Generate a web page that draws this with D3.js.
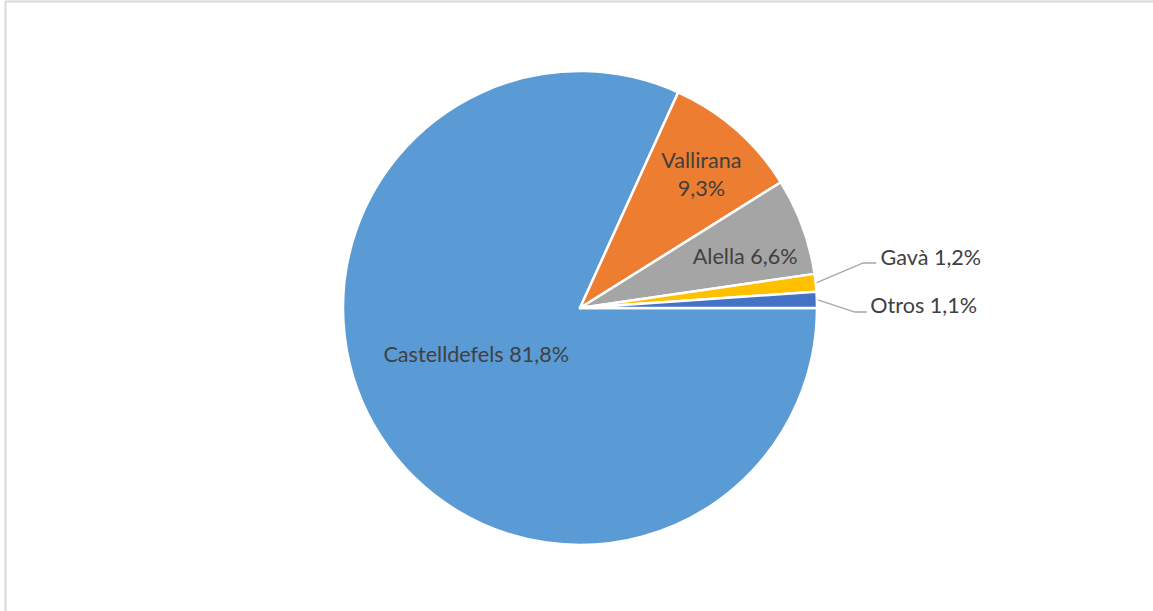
<!DOCTYPE html>
<html>
<head>
<meta charset="utf-8">
<script src="https://cdn.jsdelivr.net/npm/d3@7"></script>
<style>
  html, body { margin: 0; padding: 0; background: #fff; }
  svg text { font-family: Lato, "Open Sans", sans-serif; fill: #404040; }
</style>
</head>
<body>
<svg id="chart" width="1153" height="611"></svg>
<script>
// Share by municipality (%)
const categories = ["Castelldefels", "Vallirana", "Alella", "Gavà", "Otros"];
const values = [81.8, 9.3, 6.6, 1.2, 1.1];
const labelTexts = ["Castelldefels 81,8%", "Vallirana|9,3%", "Alella 6,6%", "Gavà 1,2%", "Otros 1,1%"];
const colors = ["#5B9BD5", "#ED7D31", "#A5A5A5", "#FFC000", "#4472C4"];

const W = 1153, H = 611;
const cx = 580, cy = 308, R = 237;

const svg = d3.select("#chart");

// chart frame
svg.append("rect")
  .attr("x", 5.5).attr("y", 1.5)
  .attr("width", W + 10).attr("height", H + 10)
  .attr("fill", "none").attr("stroke", "#d9d9d9").attr("stroke-width", 2);

const data = categories.map((c, i) => ({ name: c, value: values[i], label: labelTexts[i], color: colors[i] }));

const pie = d3.pie()
  .value(d => d.value)
  .sort(null)
  .startAngle(Math.PI / 2)
  .endAngle(Math.PI / 2 + 2 * Math.PI);

const arcs = pie(data);
const arc = d3.arc().innerRadius(0).outerRadius(R);

const g = svg.append("g").attr("transform", `translate(${cx},${cy})`);

g.selectAll("path.slice")
  .data(arcs)
  .join("path")
  .attr("class", "slice")
  .attr("d", arc)
  .attr("fill", d => d.data.color)
  .attr("stroke", "#fff")
  .attr("stroke-width", 2.5)
  .attr("stroke-linejoin", "round");

const fs = 21.6;
const polar = (a, r) => [Math.sin(a) * r, -Math.cos(a) * r];
const mid = d => (d.startAngle + d.endAngle) / 2;

// labels inside the larger slices
const inside = [
  { i: 0, r: 0.48 * R, da: 0.15 },
  { i: 1, r: 0.76 * R, da: 0.02 },
  { i: 2, r: 0.73 * R, da: 0.05 }
];
inside.forEach(o => {
  const d = arcs[o.i];
  const [x, y] = polar(mid(d) + o.da, o.r);
  const lines = d.data.label.split("|");
  const t = g.append("text")
    .attr("text-anchor", "middle")
    .attr("font-size", fs);
  lines.forEach((ln, k) => {
    t.append("tspan")
      .attr("x", x)
      .attr("y", y + (k - (lines.length - 1) / 2) * 28)
      .attr("dy", "0.35em")
      .text(ln);
  });
});

// outside labels with leader lines for the thin slices
const outside = [
  { i: 3, ex: 1.195 * R, ey: -45, hx: 1.25 * R, tx: 1.268 * R, ty: -51 },
  { i: 4, ex: 1.16 * R, ey: 4, hx: 1.21 * R, tx: 1.225 * R, ty: -3 }
];
outside.forEach(o => {
  const d = arcs[o.i];
  const [sx, sy] = polar(mid(d), R + 1);
  g.append("polyline")
    .attr("points", [[sx, sy], [o.ex, o.ey], [o.hx, o.ey]].map(p => p.join(",")).join(" "))
    .attr("fill", "none")
    .attr("stroke", "#a6a6a6")
    .attr("stroke-width", 1.3);
  g.append("text")
    .attr("x", o.tx).attr("y", o.ty)
    .attr("dy", "0.35em")
    .attr("font-size", fs)
    .text(d.data.label);
});
</script>
</body>
</html>
